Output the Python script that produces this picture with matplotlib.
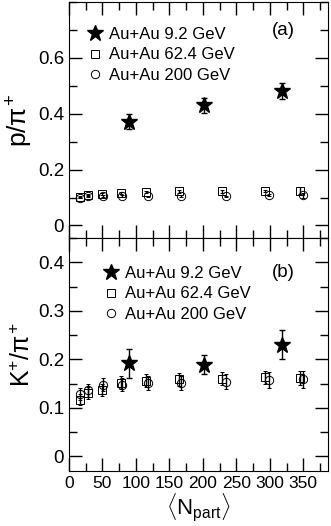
import matplotlib
matplotlib.use('Agg')
import matplotlib.pyplot as plt
from matplotlib.lines import Line2D
from matplotlib.ticker import MultipleLocator

plt.rcParams['font.family'] = 'Liberation Sans'
plt.rcParams['mathtext.fontset'] = 'custom'
plt.rcParams['mathtext.rm'] = 'Liberation Sans'
plt.rcParams['mathtext.it'] = 'Liberation Sans'

# Npart positions
npart_92 = [89, 202, 318]
npart_624 = [16, 29, 49, 77, 115, 164, 229, 293, 345]
npart_200 = [16, 29, 51, 79, 118, 168, 234, 299, 349]

# p/pi+ ratios
p_92 = [0.372, 0.430, 0.482]
p_92_err = [0.028, 0.028, 0.028]
p_624 = [0.102, 0.108, 0.112, 0.116, 0.120, 0.122, 0.122, 0.124, 0.125]
p_624_err = [0.004, 0.004, 0.004, 0.004, 0.004, 0.004, 0.004, 0.004, 0.012]
p_200 = [0.100, 0.105, 0.106, 0.105, 0.104, 0.106, 0.104, 0.110, 0.108]
p_200_err = [0.003, 0.003, 0.003, 0.003, 0.003, 0.003, 0.003, 0.003, 0.008]

# K+/pi+ ratios
k_92 = [0.192, 0.189, 0.230]
k_92_err = [0.030, 0.020, 0.030]
k_624 = [0.117, 0.131, 0.137, 0.152, 0.156, 0.159, 0.160, 0.163, 0.162]
k_624_err = [0.012, 0.013, 0.013, 0.013, 0.013, 0.013, 0.013, 0.013, 0.015]
k_200 = [0.129, 0.136, 0.148, 0.148, 0.151, 0.151, 0.154, 0.158, 0.159]
k_200_err = [0.012, 0.014, 0.014, 0.014, 0.014, 0.015, 0.015, 0.016, 0.017]

labels = ['Au+Au 9.2 GeV', 'Au+Au 62.4 GeV', 'Au+Au 200 GeV']

fig = plt.figure(figsize=(3.31, 5.26), dpi=100)
ax1 = fig.add_axes([0.2085, 0.5475, 0.7825, 0.4485])
ax2 = fig.add_axes([0.2085, 0.1046, 0.7825, 0.4429])

star_kw = dict(marker='*', color='black', ms=12, ls='none')
sq_kw = dict(marker='s', mfc='none', mec='black', ms=5.5, mew=0.7, ls='none')
ci_kw = dict(marker='o', mfc='none', mec='black', ms=6, mew=0.7, ls='none')
handles = [Line2D([], [], **star_kw), Line2D([], [], **sq_kw), Line2D([], [], **ci_kw)]


def draw(ax, y92, e92, y624, e624, y200, e200):
    ax.errorbar(npart_92, y92, yerr=e92, ecolor='black', elinewidth=1,
                capsize=2, zorder=3, **star_kw)
    ax.errorbar(npart_624, y624, yerr=e624, ecolor='black', elinewidth=1,
                capsize=1.5, **sq_kw)
    ax.errorbar(npart_200, y200, yerr=e200, ecolor='black', elinewidth=1,
                capsize=1.5, **ci_kw)
    ax.set_xlim(0, 387)
    ax.xaxis.set_major_locator(MultipleLocator(50))
    ax.xaxis.set_minor_locator(MultipleLocator(25))
    ax.tick_params(which='both', direction='in', top=True, right=True, width=1)
    ax.tick_params(which='major', length=9.5)
    ax.tick_params(which='minor', length=5.5)
    ax.tick_params(axis='y', labelsize=13.5)
    ax.tick_params(axis='x', labelsize=12.5)


def legend(ax, x, y):
    ax.legend(handles, labels, loc='upper left', bbox_to_anchor=(x, y), frameon=False,
              fontsize=12, handletextpad=0.25, labelspacing=0.33, handlelength=1.2,
              borderpad=0, borderaxespad=0)


draw(ax1, p_92, p_92_err, p_624, p_624_err, p_200, p_200_err)
ax1.set_ylim(-0.045, 0.8)
ax1.yaxis.set_minor_locator(MultipleLocator(0.1))
ax1.set_yticks([0, 0.2, 0.4, 0.6], ['0', '0.2', '0.4', '0.6'])
ax1.tick_params(axis='x', labelbottom=False)
ax1.set_ylabel(r'p/$\pi^{+}$', fontsize=19, labelpad=2)
ax1.text(0.873, 0.881, '(a)', transform=ax1.transAxes, fontsize=13.5, ha='right', va='center')
legend(ax1, 0.062, 0.895)

draw(ax2, k_92, k_92_err, k_624, k_624_err, k_200, k_200_err)
ax2.set_ylim(-0.03, 0.45)
ax2.yaxis.set_minor_locator(MultipleLocator(0.05))
ax2.set_yticks([0, 0.1, 0.2, 0.3, 0.4], ['0', '0.1', '0.2', '0.3', '0.4'])
ax2.set_ylabel(r'K$^{+}$/$\pi^{+}$', fontsize=18, labelpad=2)
ax2.set_xlabel(r'$\langle$N$_{\mathrm{part}}\rangle$', fontsize=16, labelpad=1)
ax2.text(0.873, 0.850, '(b)', transform=ax2.transAxes, fontsize=13.5, ha='right', va='center')
legend(ax2, 0.124, 0.880)

fig.savefig('out.png', dpi=100)
